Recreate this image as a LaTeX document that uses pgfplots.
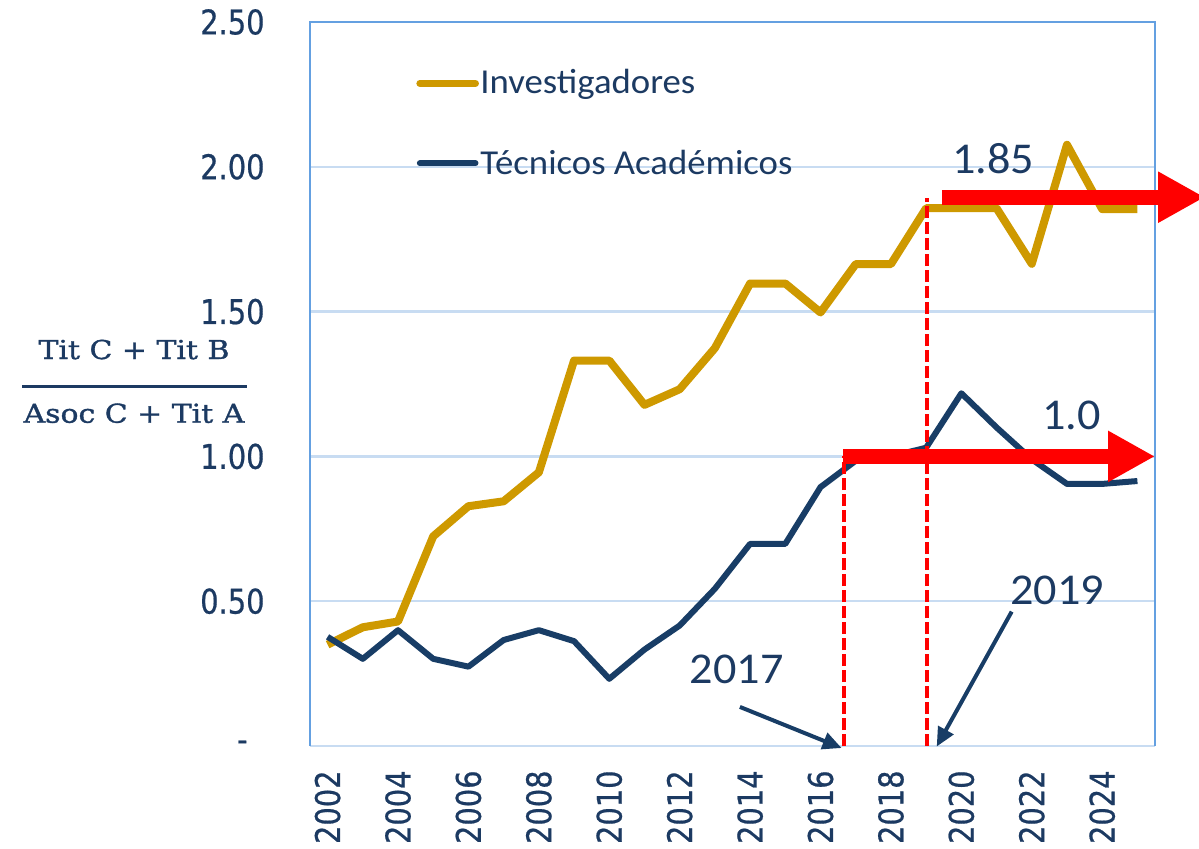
\documentclass[border=0pt]{standalone}
\usepackage{pgfplots}
\pgfplotsset{compat=1.18}
\usepackage{pgfplotstable}
\usetikzlibrary{arrows.meta}
\usepackage{fontspec}
\setmainfont{Carlito}[FakeStretch=1.05]
\newfontfamily\tickfont{DejaVu Sans}[FakeStretch=0.85,FakeBold=0.6]
\newfontfamily\fracfont{DejaVu Serif}[FakeStretch=1.15,FakeBold=1.3]
\definecolor{gold}{RGB}{206,153,0}
\definecolor{navy}{RGB}{24,61,102}
\definecolor{txtblue}{RGB}{28,58,98}
\definecolor{gridblue}{RGB}{200,220,242}
\definecolor{frameblue}{RGB}{100,160,225}

\pgfplotstableread{
year val
2002 0.35
2003 0.41
2004 0.43
2005 0.724
2006 0.828
2007 0.845
2008 0.945
2009 1.331
2010 1.331
2011 1.178
2012 1.232
2013 1.374
2014 1.597
2015 1.597
2016 1.497
2017 1.664
2018 1.664
2019 1.857
2020 1.857
2021 1.857
2022 1.665
2023 2.076
2024 1.854
2025 1.854
}\invest

\pgfplotstableread{
year val
2002 0.377
2003 0.301
2004 0.400
2005 0.301
2006 0.274
2007 0.366
2008 0.400
2009 0.362
2010 0.232
2011 0.333
2012 0.416
2013 0.543
2014 0.698
2015 0.698
2016 0.894
2017 0.985
2018 1.000
2019 1.030
2020 1.218
2021 1.100
2022 0.990
2023 0.905
2024 0.905
2025 0.915
}\tecnicos

\begin{document}
\begin{tikzpicture}
\path[use as bounding box] (0,0) rectangle (599.5pt,424pt);
% fraction label
\node[anchor=base, inner sep=0pt, text=txtblue] at (67pt,244.5pt) {\fracfont\fontsize{13}{15}\selectfont Tit C + Tit B};
\draw[txtblue, line width=1.35pt] (11pt,230.65pt) -- (123.5pt,230.65pt);
\node[anchor=base, inner sep=0pt, text=txtblue] at (67pt,212.65pt) {\fracfont\fontsize{13}{15}\selectfont Asoc C + Tit A};
% zero tick label
\node[anchor=east, inner sep=0pt, text=txtblue, font=\tickfont\fontsize{17}{17}\selectfont] at (124pt,51pt) {-};
\begin{axis}[
  at={(155pt,51pt)}, anchor=south west,
  width=422.5pt, height=362pt, scale only axis,
  xmin=2001.5, xmax=2025.5, ymin=0, ymax=2.5,
  clip=false,
  axis line style={draw=none},
  ytick={0,0.5,1,1.5,2,2.5},
  yticklabels={{},0.50,1.00,1.50,2.00,2.50},
  xtick={2002,2004,2006,2008,2010,2012,2014,2016,2018,2020,2022,2024},
  xticklabels={2002,2004,2006,2008,2010,2012,2014,2016,2018,2020,2022,2024},
  major tick length=0pt,
  ymajorgrids, grid style={gridblue, line width=1.2pt},
  yticklabel style={font=\tickfont\fontsize{17}{17}\selectfont, text=txtblue, anchor=east, inner sep=0pt, xshift=-22.5pt},
  xticklabel style={font=\tickfont\fontsize{17}{17}\selectfont, text=txtblue, rotate=90, anchor=east, inner sep=0pt},
  xticklabel shift=12pt,
]
\addplot[gold, line width=4pt, line join=round] table[x=year, y=val] {\invest};
\addplot[navy, line width=3pt, line join=round] table[x=year, y=val] {\tecnicos};

% frame
\draw[frameblue, line width=1.25pt] (rel axis cs:0,0) -- (rel axis cs:0,1) -- (rel axis cs:1,1) -- (rel axis cs:1,0);

% legend
\draw[gold, line width=3.5pt, line cap=round] (axis cs:2004.62,2.288) -- (axis cs:2006.2,2.288);
\node[anchor=base west, inner sep=0pt, text=txtblue, font=\fontsize{17.5}{20}\selectfont] at (axis cs:2006.33,2.254) {Investigadores};
\draw[navy, line width=3pt, line cap=round] (axis cs:2004.62,2.012) -- (axis cs:2006.2,2.012);
\node[anchor=base west, inner sep=0pt, text=txtblue, font=\fontsize{17.5}{20}\selectfont] at (axis cs:2006.33,1.975) {Técnicos Académicos};

% red arrows
\draw[red, line width=7.5pt, -{Triangle[length=23.5pt,width=24pt]}] (axis cs:2016.64,1.0) -- (axis cs:2025.5,1.0);
\draw[red, line width=7.5pt, -{Triangle[length=23.5pt,width=24pt]}] (axis cs:2019.45,1.895) -- (axis cs:2026.92,1.895);

% dashed lines
\draw[red, line width=2pt, dash pattern=on 6pt off 2pt] (axis cs:2016.68,0) -- (axis cs:2016.68,1.0);
\draw[red, line width=2pt, dash pattern=on 6pt off 2pt] (axis cs:2019.02,0) -- (axis cs:2019.02,1.893);

% navy arrows
\draw[navy, line width=2pt, -{Triangle[length=9.5pt,width=8.5pt]}] (axis cs:2013.71,0.135) -- (axis cs:2016.60,-0.007);
\draw[navy, line width=2pt, -{Triangle[length=9.5pt,width=8.5pt]}] (axis cs:2021.43,0.464) -- (axis cs:2019.30,-0.002);

% annotations
\node[anchor=base, inner sep=0pt, text=txtblue, font=\fontsize{22}{24}\selectfont] at (axis cs:2013.62,0.2165) {2017};
\node[anchor=base, inner sep=0pt, text=txtblue, font=\fontsize{22}{24}\selectfont] at (axis cs:2022.72,0.487) {2019};
\node[anchor=base, inner sep=0pt, text=txtblue, font=\fontsize{22}{24}\selectfont] at (axis cs:2020.90,1.978) {1.85};
\node[anchor=base, inner sep=0pt, text=txtblue, font=\fontsize{22}{24}\selectfont] at (axis cs:2023.13,1.0935) {1.0};
\end{axis}
\end{tikzpicture}
\end{document}
